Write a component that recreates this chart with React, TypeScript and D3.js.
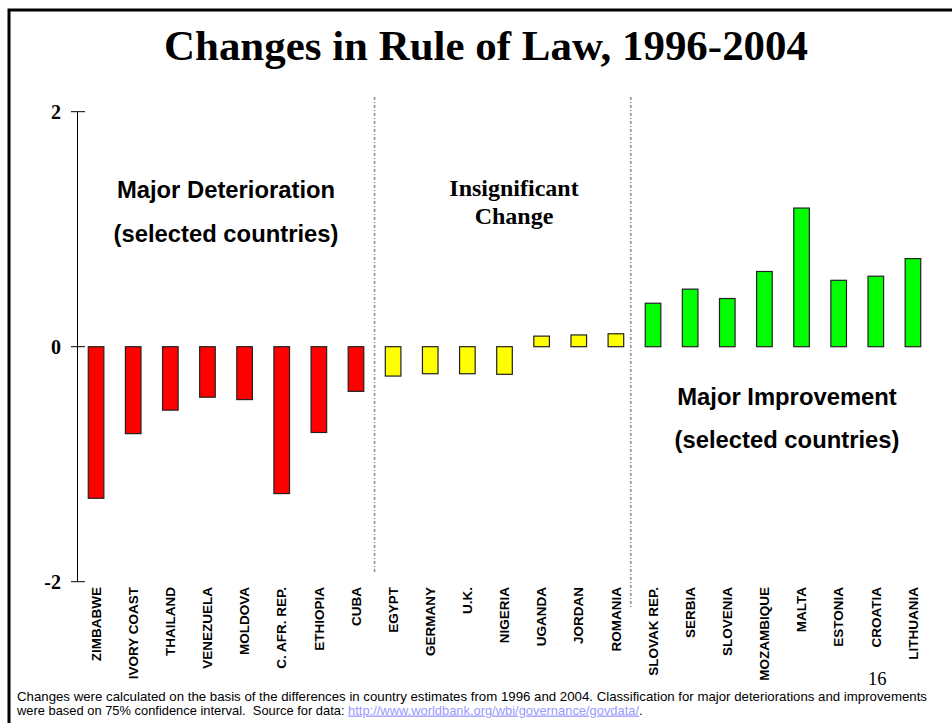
import React from "react";
import * as d3 from "d3";

const countries = [
  "ZIMBABWE", "IVORY COAST", "THAILAND", "VENEZUELA", "MOLDOVA", "C. AFR. REP.", "ETHIOPIA", "CUBA",
  "EGYPT", "GERMANY", "U.K.", "NIGERIA", "UGANDA", "JORDAN", "ROMANIA",
  "SLOVAK REP.", "SERBIA", "SLOVENIA", "MOZAMBIQUE", "MALTA", "ESTONIA", "CROATIA", "LITHUANIA",
];
const changes = [
  -1.29, -0.74, -0.54, -0.43, -0.45, -1.25, -0.73, -0.38,
  -0.25, -0.23, -0.23, -0.235, 0.09, 0.10, 0.11,
  0.37, 0.49, 0.41, 0.64, 1.18, 0.565, 0.60, 0.75,
];
const groups = [
  "det", "det", "det", "det", "det", "det", "det", "det",
  "ins", "ins", "ins", "ins", "ins", "ins", "ins",
  "imp", "imp", "imp", "imp", "imp", "imp", "imp", "imp",
];
const groupNames = ["det", "ins", "imp"];
const groupColors = ["#ff0000", "#ffff00", "#00ff00"];
const yTicks = [-2, 0, 2];

const width = 952;
const height = 723;
const serif = "'Liberation Serif', 'Times New Roman', serif";
const sans = "'Liberation Sans', Arial, sans-serif";

export default function App() {
  const x = d3.scaleBand<string>()
    .domain(countries)
    .range([77.5, 931.5])
    .paddingInner(0.58)
    .paddingOuter(0.29);
  const y = d3.scaleLinear().domain([-2, 2]).range([581.7, 111.7]);
  const color = d3.scaleOrdinal<string, string>().domain(groupNames).range(groupColors);
  const axisX = x.range()[0];
  const bw = x.bandwidth();
  const gap = x.step() - bw;

  // separators between the groups
  const sepA = (x("CUBA") as number) + bw + gap * 0.5;
  const sepB = (x("ROMANIA") as number) + bw + gap * 0.33;

  return (
    <div style={{ position: "fixed", left: 0, top: 0 }}>
      <svg width={width} height={height} style={{ display: "block", background: "#fff" }}>
        <rect x={9} y={10} width={width + 20} height={height + 20} fill="none" stroke="#000" strokeWidth={3} />

        <text x={486} y={60} textAnchor="middle" fontFamily={serif} fontWeight="bold" fontSize={43}
          textLength={644} lengthAdjust="spacingAndGlyphs">
          Changes in Rule of Law, 1996-2004
        </text>

        {/* y axis */}
        <line x1={axisX} x2={axisX} y1={y(2)} y2={y(-2)} stroke="#000" strokeWidth={1} />
        {yTicks.map(t => (
          <g key={t}>
            <line x1={71} x2={85} y1={y(t)} y2={y(t)} stroke="#000" strokeWidth={1} />
            <text x={61} y={y(t)} dy="0.35em" textAnchor="end" fontFamily={serif} fontWeight="bold" fontSize={20}>
              {t}
            </text>
          </g>
        ))}

        {/* group separators */}
        <line x1={sepA} x2={sepA} y1={97} y2={573} stroke="#888" strokeWidth={1.5} strokeDasharray="3,2,1,2" />
        <line x1={sepB} x2={sepB} y1={97} y2={607} stroke="#888" strokeWidth={1.5} strokeDasharray="3,2,1,2" />

        {/* bars */}
        {countries.map((c, i) => (
          <rect
            key={c}
            x={x(c)}
            y={y(Math.max(0, changes[i]))}
            width={bw}
            height={Math.abs(y(changes[i]) - y(0))}
            fill={color(groups[i])}
            stroke="#222"
            strokeWidth={1.2}
          />
        ))}

        {/* category labels */}
        {countries.map(c => (
          <text
            key={c}
            transform={`translate(${(x(c) as number) + bw / 2},587) rotate(-90)`}
            dy="0.35em"
            textAnchor="end"
            fontFamily={sans}
            fontWeight="bold"
            fontSize={13.5}
          >
            {c}
          </text>
        ))}

        {/* group annotations */}
        <g fontFamily={sans} fontWeight="bold" fontSize={23.8} textAnchor="middle">
          <text x={226} y={198}>Major Deterioration</text>
          <text x={226} y={242}>(selected countries)</text>
          <text x={787} y={405}>Major Improvement</text>
          <text x={787} y={448}>(selected countries)</text>
        </g>
        <g fontFamily={serif} fontWeight="bold" fontSize={24} textAnchor="middle">
          <text x={514} y={196}>Insignificant</text>
          <text x={514} y={224}>Change</text>
        </g>

        <text x={868} y={685} fontFamily={serif} fontSize={18.5}>16</text>

        <g fontFamily={sans} fontSize={12.9}>
          <text x={17} y={700.5} textLength={910} lengthAdjust="spacingAndGlyphs">
            Changes were calculated on the basis of the differences in country estimates from 1996 and 2004. Classification for major deteriorations and improvements
          </text>
          <text x={17} y={714.5}>
            were based on 75% confidence interval.{"\u00a0\u00a0"}Source for data:{" "}
            <tspan fill="#9999ff" textDecoration="underline">http://www.worldbank.org/wbi/governance/govdata/</tspan>.
          </text>
        </g>
      </svg>
    </div>
  );
}
